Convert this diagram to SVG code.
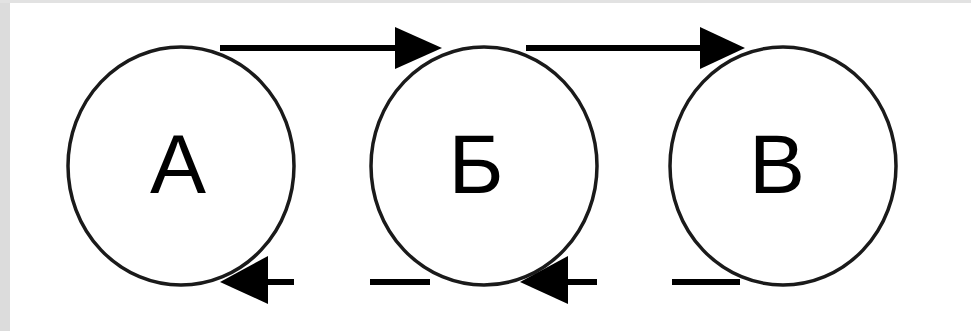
<svg xmlns="http://www.w3.org/2000/svg" width="971" height="331" viewBox="0 0 971 331">
  <style>
    .node ellipse { fill: none; stroke: #1a1a1a; stroke-width: 3.5; }
    .node text { font-family: "Liberation Sans", Arial, sans-serif; font-size: 84px; fill: #000; text-anchor: middle; }
    .conn line { stroke: #000; stroke-width: 6; }
    .conn polygon { fill: #000; }
  </style>
  <rect x="0" y="0" width="971" height="331" fill="#ffffff"/>
  <rect x="0" y="0" width="10" height="331" fill="#dcdcdc"/>
  <rect x="0" y="0" width="971" height="3" fill="#e2e2e2"/>
  <g id="node-a" class="node">
    <ellipse cx="181" cy="166" rx="113" ry="119"/>
    <text x="178" y="193">А</text>
  </g>
  <g id="node-b" class="node">
    <ellipse cx="484" cy="166" rx="113" ry="119"/>
    <text x="476" y="193">Б</text>
  </g>
  <g id="node-v" class="node">
    <ellipse cx="783" cy="166" rx="113" ry="119"/>
    <text x="777" y="193">В</text>
  </g>
  <g id="connectors" class="conn">
    <line x1="220" y1="48" x2="400" y2="48"/>
    <polygon points="395,27 442,48 395,69"/>
    <line x1="526" y1="48" x2="705" y2="48"/>
    <polygon points="700,27 745,48 700,69"/>
    <line x1="294" y1="282" x2="260" y2="282"/>
    <polygon points="268,256 220,282 268,304"/>
    <line x1="370" y1="282" x2="430" y2="282"/>
    <line x1="597" y1="282" x2="560" y2="282"/>
    <polygon points="568,256 520,282 568,304"/>
    <line x1="672" y1="282" x2="740" y2="282"/>
  </g>
</svg>
